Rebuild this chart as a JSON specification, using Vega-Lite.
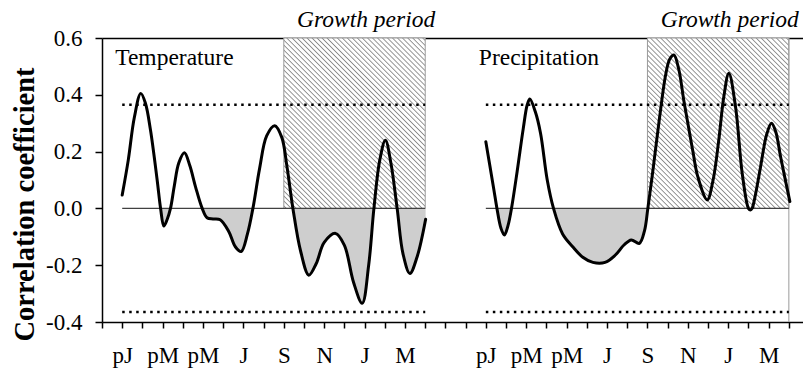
{
"$schema": "https://vega.github.io/schema/vega-lite/v6.json",
"width": 701, "height": 284,
"autosize": {"type": "none"},
"padding": {"left": 102, "top": 38, "right": 0, "bottom": 49},
"background": "white",
"config": {
  "view": {"stroke": null},
  "axis": {"grid": false, "labelFont": "Liberation Serif", "labelFontSize": 23, "labelColor": "black", "domainColor": "black", "tickColor": "black", "domainWidth": 1.5, "tickWidth": 1.5}
},
"datasets": {
  "curve": [
    {"panel":"Temperature","m":0.0,"r":0.047},{"panel":"Temperature","m":0.3,"r":0.17},{"panel":"Temperature","m":0.6,"r":0.32},{"panel":"Temperature","m":0.92,"r":0.405},{"panel":"Temperature","m":1.15,"r":0.37},{"panel":"Temperature","m":1.4,"r":0.276},{"panel":"Temperature","m":1.73,"r":0.1},{"panel":"Temperature","m":1.9,"r":0.0},{"panel":"Temperature","m":2.06,"r":-0.062},{"panel":"Temperature","m":2.22,"r":-0.04},{"panel":"Temperature","m":2.39,"r":0.0},{"panel":"Temperature","m":2.58,"r":0.08},{"panel":"Temperature","m":2.8,"r":0.16},{"panel":"Temperature","m":3.08,"r":0.196},{"panel":"Temperature","m":3.35,"r":0.15},{"panel":"Temperature","m":3.63,"r":0.076},{"panel":"Temperature","m":3.96,"r":0.0},{"panel":"Temperature","m":4.2,"r":-0.033},{"panel":"Temperature","m":4.5,"r":-0.037},{"panel":"Temperature","m":4.85,"r":-0.04},{"panel":"Temperature","m":5.28,"r":-0.082},{"panel":"Temperature","m":5.6,"r":-0.135},{"panel":"Temperature","m":5.89,"r":-0.152},{"panel":"Temperature","m":6.2,"r":-0.09},{"panel":"Temperature","m":6.47,"r":0.0},{"panel":"Temperature","m":6.8,"r":0.14},{"panel":"Temperature","m":7.15,"r":0.255},{"panel":"Temperature","m":7.55,"r":0.291},{"panel":"Temperature","m":7.9,"r":0.25},{"panel":"Temperature","m":8.15,"r":0.15},{"panel":"Temperature","m":8.45,"r":0.0},{"panel":"Temperature","m":8.83,"r":-0.15},{"panel":"Temperature","m":9.24,"r":-0.235},{"panel":"Temperature","m":9.6,"r":-0.195},{"panel":"Temperature","m":10.0,"r":-0.12},{"panel":"Temperature","m":10.56,"r":-0.088},{"panel":"Temperature","m":11.0,"r":-0.13},{"panel":"Temperature","m":11.45,"r":-0.26},{"panel":"Temperature","m":11.88,"r":-0.334},{"panel":"Temperature","m":12.2,"r":-0.2},{"panel":"Temperature","m":12.46,"r":0.0},{"panel":"Temperature","m":12.75,"r":0.17},{"panel":"Temperature","m":13.03,"r":0.24},{"panel":"Temperature","m":13.3,"r":0.16},{"panel":"Temperature","m":13.61,"r":0.0},{"panel":"Temperature","m":13.9,"r":-0.16},{"panel":"Temperature","m":14.24,"r":-0.229},{"panel":"Temperature","m":14.6,"r":-0.17},{"panel":"Temperature","m":15.02,"r":-0.038},
    {"panel":"Precipitation","m":18.0,"r":0.235},{"panel":"Precipitation","m":18.2,"r":0.15},{"panel":"Precipitation","m":18.4,"r":0.065},{"panel":"Precipitation","m":18.55,"r":0.0},{"panel":"Precipitation","m":18.75,"r":-0.07},{"panel":"Precipitation","m":18.92,"r":-0.094},{"panel":"Precipitation","m":19.1,"r":-0.06},{"panel":"Precipitation","m":19.27,"r":0.0},{"panel":"Precipitation","m":19.55,"r":0.13},{"panel":"Precipitation","m":19.85,"r":0.28},{"panel":"Precipitation","m":20.05,"r":0.365},{"panel":"Precipitation","m":20.18,"r":0.385},{"panel":"Precipitation","m":20.45,"r":0.34},{"panel":"Precipitation","m":20.71,"r":0.264},{"panel":"Precipitation","m":21.04,"r":0.1},{"panel":"Precipitation","m":21.35,"r":0.0},{"panel":"Precipitation","m":21.8,"r":-0.09},{"panel":"Precipitation","m":22.3,"r":-0.135},{"panel":"Precipitation","m":22.8,"r":-0.172},{"panel":"Precipitation","m":23.3,"r":-0.19},{"panel":"Precipitation","m":23.9,"r":-0.19},{"panel":"Precipitation","m":24.4,"r":-0.165},{"panel":"Precipitation","m":24.85,"r":-0.128},{"panel":"Precipitation","m":25.2,"r":-0.111},{"panel":"Precipitation","m":25.6,"r":-0.123},{"panel":"Precipitation","m":25.85,"r":-0.08},{"panel":"Precipitation","m":26.02,"r":0.0},{"panel":"Precipitation","m":26.3,"r":0.15},{"panel":"Precipitation","m":26.6,"r":0.32},{"panel":"Precipitation","m":26.9,"r":0.47},{"panel":"Precipitation","m":27.1,"r":0.525},{"panel":"Precipitation","m":27.31,"r":0.54},{"panel":"Precipitation","m":27.55,"r":0.49},{"panel":"Precipitation","m":27.8,"r":0.38},{"panel":"Precipitation","m":28.0,"r":0.3},{"panel":"Precipitation","m":28.25,"r":0.2},{"panel":"Precipitation","m":28.5,"r":0.11},{"panel":"Precipitation","m":28.96,"r":0.03},{"panel":"Precipitation","m":29.25,"r":0.1},{"panel":"Precipitation","m":29.53,"r":0.24},{"panel":"Precipitation","m":29.78,"r":0.393},{"panel":"Precipitation","m":30.03,"r":0.476},{"panel":"Precipitation","m":30.36,"r":0.358},{"panel":"Precipitation","m":30.69,"r":0.124},{"panel":"Precipitation","m":31.0,"r":0.0},{"panel":"Precipitation","m":31.1,"r":-0.006},{"panel":"Precipitation","m":31.18,"r":0.0},{"panel":"Precipitation","m":31.35,"r":0.05},{"panel":"Precipitation","m":31.6,"r":0.147},{"panel":"Precipitation","m":31.9,"r":0.26},{"panel":"Precipitation","m":32.14,"r":0.3},{"panel":"Precipitation","m":32.35,"r":0.27},{"panel":"Precipitation","m":32.59,"r":0.182},{"panel":"Precipitation","m":33.05,"r":0.024}
  ],
  "panels": [
    {"panel":"Temperature","start":0,"end":15,"growth":8},
    {"panel":"Precipitation","start":18,"end":33,"growth":26}
  ]
},
"layer": [
  {
    "data": {"name": "panels"},
    "mark": {"type": "rect", "stroke": "#9a9a9a", "strokeWidth": 1,
      "fill": {"gradient": "linear", "x1": 0, "y1": 1, "x2": 0.8992, "y2": -0.0836, "stops": [
        {"offset":0.004,"color":"#fff"},{"offset":0.008,"color":"#8a8a8a"},{"offset":0.012,"color":"#fff"},
        {"offset":0.020,"color":"#fff"},{"offset":0.024,"color":"#8a8a8a"},{"offset":0.028,"color":"#fff"},
        {"offset":0.036,"color":"#fff"},{"offset":0.040,"color":"#8a8a8a"},{"offset":0.044,"color":"#fff"},
        {"offset":0.052,"color":"#fff"},{"offset":0.056,"color":"#8a8a8a"},{"offset":0.060,"color":"#fff"},
        {"offset":0.069,"color":"#fff"},{"offset":0.073,"color":"#8a8a8a"},{"offset":0.077,"color":"#fff"},
        {"offset":0.085,"color":"#fff"},{"offset":0.089,"color":"#8a8a8a"},{"offset":0.093,"color":"#fff"},
        {"offset":0.101,"color":"#fff"},{"offset":0.105,"color":"#8a8a8a"},{"offset":0.109,"color":"#fff"},
        {"offset":0.117,"color":"#fff"},{"offset":0.121,"color":"#8a8a8a"},{"offset":0.125,"color":"#fff"},
        {"offset":0.133,"color":"#fff"},{"offset":0.137,"color":"#8a8a8a"},{"offset":0.141,"color":"#fff"},
        {"offset":0.149,"color":"#fff"},{"offset":0.153,"color":"#8a8a8a"},{"offset":0.157,"color":"#fff"},
        {"offset":0.165,"color":"#fff"},{"offset":0.169,"color":"#8a8a8a"},{"offset":0.173,"color":"#fff"},
        {"offset":0.181,"color":"#fff"},{"offset":0.185,"color":"#8a8a8a"},{"offset":0.189,"color":"#fff"},
        {"offset":0.198,"color":"#fff"},{"offset":0.202,"color":"#8a8a8a"},{"offset":0.206,"color":"#fff"},
        {"offset":0.214,"color":"#fff"},{"offset":0.218,"color":"#8a8a8a"},{"offset":0.222,"color":"#fff"},
        {"offset":0.230,"color":"#fff"},{"offset":0.234,"color":"#8a8a8a"},{"offset":0.238,"color":"#fff"},
        {"offset":0.246,"color":"#fff"},{"offset":0.250,"color":"#8a8a8a"},{"offset":0.254,"color":"#fff"},
        {"offset":0.262,"color":"#fff"},{"offset":0.266,"color":"#8a8a8a"},{"offset":0.270,"color":"#fff"},
        {"offset":0.278,"color":"#fff"},{"offset":0.282,"color":"#8a8a8a"},{"offset":0.286,"color":"#fff"},
        {"offset":0.294,"color":"#fff"},{"offset":0.298,"color":"#8a8a8a"},{"offset":0.302,"color":"#fff"},
        {"offset":0.311,"color":"#fff"},{"offset":0.315,"color":"#8a8a8a"},{"offset":0.319,"color":"#fff"},
        {"offset":0.327,"color":"#fff"},{"offset":0.331,"color":"#8a8a8a"},{"offset":0.335,"color":"#fff"},
        {"offset":0.343,"color":"#fff"},{"offset":0.347,"color":"#8a8a8a"},{"offset":0.351,"color":"#fff"},
        {"offset":0.359,"color":"#fff"},{"offset":0.363,"color":"#8a8a8a"},{"offset":0.367,"color":"#fff"},
        {"offset":0.375,"color":"#fff"},{"offset":0.379,"color":"#8a8a8a"},{"offset":0.383,"color":"#fff"},
        {"offset":0.391,"color":"#fff"},{"offset":0.395,"color":"#8a8a8a"},{"offset":0.399,"color":"#fff"},
        {"offset":0.407,"color":"#fff"},{"offset":0.411,"color":"#8a8a8a"},{"offset":0.415,"color":"#fff"},
        {"offset":0.423,"color":"#fff"},{"offset":0.427,"color":"#8a8a8a"},{"offset":0.431,"color":"#fff"},
        {"offset":0.440,"color":"#fff"},{"offset":0.444,"color":"#8a8a8a"},{"offset":0.448,"color":"#fff"},
        {"offset":0.456,"color":"#fff"},{"offset":0.460,"color":"#8a8a8a"},{"offset":0.464,"color":"#fff"},
        {"offset":0.472,"color":"#fff"},{"offset":0.476,"color":"#8a8a8a"},{"offset":0.480,"color":"#fff"},
        {"offset":0.488,"color":"#fff"},{"offset":0.492,"color":"#8a8a8a"},{"offset":0.496,"color":"#fff"},
        {"offset":0.504,"color":"#fff"},{"offset":0.508,"color":"#8a8a8a"},{"offset":0.512,"color":"#fff"},
        {"offset":0.520,"color":"#fff"},{"offset":0.524,"color":"#8a8a8a"},{"offset":0.528,"color":"#fff"},
        {"offset":0.536,"color":"#fff"},{"offset":0.540,"color":"#8a8a8a"},{"offset":0.544,"color":"#fff"},
        {"offset":0.552,"color":"#fff"},{"offset":0.556,"color":"#8a8a8a"},{"offset":0.560,"color":"#fff"},
        {"offset":0.569,"color":"#fff"},{"offset":0.573,"color":"#8a8a8a"},{"offset":0.577,"color":"#fff"},
        {"offset":0.585,"color":"#fff"},{"offset":0.589,"color":"#8a8a8a"},{"offset":0.593,"color":"#fff"},
        {"offset":0.601,"color":"#fff"},{"offset":0.605,"color":"#8a8a8a"},{"offset":0.609,"color":"#fff"},
        {"offset":0.617,"color":"#fff"},{"offset":0.621,"color":"#8a8a8a"},{"offset":0.625,"color":"#fff"},
        {"offset":0.633,"color":"#fff"},{"offset":0.637,"color":"#8a8a8a"},{"offset":0.641,"color":"#fff"},
        {"offset":0.649,"color":"#fff"},{"offset":0.653,"color":"#8a8a8a"},{"offset":0.657,"color":"#fff"},
        {"offset":0.665,"color":"#fff"},{"offset":0.669,"color":"#8a8a8a"},{"offset":0.673,"color":"#fff"},
        {"offset":0.681,"color":"#fff"},{"offset":0.685,"color":"#8a8a8a"},{"offset":0.689,"color":"#fff"},
        {"offset":0.698,"color":"#fff"},{"offset":0.702,"color":"#8a8a8a"},{"offset":0.706,"color":"#fff"},
        {"offset":0.714,"color":"#fff"},{"offset":0.718,"color":"#8a8a8a"},{"offset":0.722,"color":"#fff"},
        {"offset":0.730,"color":"#fff"},{"offset":0.734,"color":"#8a8a8a"},{"offset":0.738,"color":"#fff"},
        {"offset":0.746,"color":"#fff"},{"offset":0.750,"color":"#8a8a8a"},{"offset":0.754,"color":"#fff"},
        {"offset":0.762,"color":"#fff"},{"offset":0.766,"color":"#8a8a8a"},{"offset":0.770,"color":"#fff"},
        {"offset":0.778,"color":"#fff"},{"offset":0.782,"color":"#8a8a8a"},{"offset":0.786,"color":"#fff"},
        {"offset":0.794,"color":"#fff"},{"offset":0.798,"color":"#8a8a8a"},{"offset":0.802,"color":"#fff"},
        {"offset":0.811,"color":"#fff"},{"offset":0.815,"color":"#8a8a8a"},{"offset":0.819,"color":"#fff"},
        {"offset":0.827,"color":"#fff"},{"offset":0.831,"color":"#8a8a8a"},{"offset":0.835,"color":"#fff"},
        {"offset":0.843,"color":"#fff"},{"offset":0.847,"color":"#8a8a8a"},{"offset":0.851,"color":"#fff"},
        {"offset":0.859,"color":"#fff"},{"offset":0.863,"color":"#8a8a8a"},{"offset":0.867,"color":"#fff"},
        {"offset":0.875,"color":"#fff"},{"offset":0.879,"color":"#8a8a8a"},{"offset":0.883,"color":"#fff"},
        {"offset":0.891,"color":"#fff"},{"offset":0.895,"color":"#8a8a8a"},{"offset":0.899,"color":"#fff"},
        {"offset":0.907,"color":"#fff"},{"offset":0.911,"color":"#8a8a8a"},{"offset":0.915,"color":"#fff"},
        {"offset":0.923,"color":"#fff"},{"offset":0.927,"color":"#8a8a8a"},{"offset":0.931,"color":"#fff"},
        {"offset":0.940,"color":"#fff"},{"offset":0.944,"color":"#8a8a8a"},{"offset":0.948,"color":"#fff"},
        {"offset":0.956,"color":"#fff"},{"offset":0.960,"color":"#8a8a8a"},{"offset":0.964,"color":"#fff"},
        {"offset":0.972,"color":"#fff"},{"offset":0.976,"color":"#8a8a8a"},{"offset":0.980,"color":"#fff"},
        {"offset":0.988,"color":"#fff"},{"offset":0.992,"color":"#8a8a8a"},{"offset":0.996,"color":"#fff"}
      ]}},
    "encoding": {
      "x": {"field": "growth", "type": "quantitative", "scale": {"domain": [-1, 33.7], "nice": false, "zero": false},
            "axis": {"orient": "top", "labels": false, "ticks": false, "domain": true, "title": null}},
      "x2": {"field": "end"},
      "y": {"datum": 0.6, "type": "quantitative", "scale": {"domain": [-0.4, 0.6], "nice": false, "zero": false},
            "axis": {"orient": "left", "values": [-0.4,-0.2,0,0.2,0.4,0.6], "labelExpr": "datum.value < 0 ? '-' + format(-datum.value, '.1f') : format(datum.value, '.1f')",
                     "tickSize": 7, "labelPadding": 13, "title": "Correlation coefficient", "titleFont": "Liberation Serif", "titleFontSize": 28.5, "titleFontWeight": "bold", "titleColor": "black",
                     "titleAngle": -90, "titleX": -69, "titleY": 166, "titleAlign": "center", "titleBaseline": "alphabetic"}},
      "y2": {"datum": 0}
    }
  },
  {
    "data": {"name": "panels"},
    "transform": [{"filter": "datum.panel == 'Precipitation'"}],
    "mark": {"type": "rule", "stroke": "#9a9a9a", "strokeWidth": 1},
    "encoding": {
      "x": {"field": "end", "type": "quantitative", "axis": null},
      "y": {"datum": -0.4, "type": "quantitative"},
      "y2": {"datum": 0.6}
    }
  },
  {
    "data": {"name": "curve"},
    "transform": [{"filter": "datum.r <= 0"}],
    "mark": {"type": "area", "interpolate": "monotone", "fill": "#cecece"},
    "encoding": {
      "x": {"field": "m", "type": "quantitative", "axis": null},
      "y": {"field": "r", "type": "quantitative"},
      "y2": {"datum": 0},
      "detail": {"field": "panel"}
    }
  },
  {
    "data": {"name": "panels"},
    "mark": {"type": "rule", "stroke": "#404040", "strokeWidth": 1.3},
    "encoding": {
      "x": {"field": "start", "type": "quantitative", "axis": null},
      "x2": {"field": "end"},
      "y": {"datum": 0, "type": "quantitative"}
    }
  },
  {
    "data": {"name": "panels"},
    "mark": {"type": "rule", "stroke": "black", "strokeWidth": 2.5, "strokeDash": [2.5, 4.5]},
    "encoding": {
      "x": {"field": "start", "type": "quantitative", "axis": null},
      "x2": {"field": "end"},
      "y": {"datum": 0.365, "type": "quantitative"}
    }
  },
  {
    "data": {"name": "panels"},
    "mark": {"type": "rule", "stroke": "black", "strokeWidth": 2.5, "strokeDash": [2.5, 4.5]},
    "encoding": {
      "x": {"field": "start", "type": "quantitative", "axis": null},
      "x2": {"field": "end"},
      "y": {"datum": -0.365, "type": "quantitative"}
    }
  },
  {
    "data": {"name": "curve"},
    "mark": {"type": "line", "interpolate": "catmull-rom", "stroke": "black", "strokeWidth": 3, "strokeCap": "round", "strokeJoin": "round"},
    "encoding": {
      "x": {"field": "m", "type": "quantitative",
            "axis": {"orient": "bottom", "title": null, "values": [-1,0,1,2,3,4,5,6,7,8,9,10,11,12,13,14,15,16,17,18,19,20,21,22,23,24,25,26,27,28,29,30,31,32,33],
                     "labelExpr": "datum.value < 0 ? '' : ['pJ','','pM','','pM','','J','','S','','N','','J','','M','','','','pJ','','pM','','pM','','J','','S','','N','','J','','M',''][datum.value]",
                     "tickSize": 6, "labelPadding": 34, "labelBaseline": "alphabetic", "labelOverlap": false, "labelFlush": false, "labelBound": false}},
      "y": {"field": "r", "type": "quantitative"},
      "detail": {"field": "panel"}
    }
  },
  {
    "data": {"name": "panels"},
    "mark": {"type": "text", "align": "left", "baseline": "alphabetic", "dx": -7, "font": "Liberation Serif", "fontSize": 23.5, "color": "black"},
    "encoding": {
      "x": {"field": "start", "type": "quantitative", "axis": null},
      "y": {"datum": 0.505, "type": "quantitative"},
      "text": {"field": "panel"}
    }
  },
  {
    "data": {"name": "panels"},
    "mark": {"type": "text", "align": "right", "baseline": "alphabetic", "dx": 10, "font": "Liberation Serif", "fontSize": 23.5, "fontStyle": "italic", "color": "black"},
    "encoding": {
      "x": {"field": "end", "type": "quantitative", "axis": null},
      "y": {"datum": 0.639, "type": "quantitative"},
      "text": {"value": "Growth period"}
    }
  }
]
}
